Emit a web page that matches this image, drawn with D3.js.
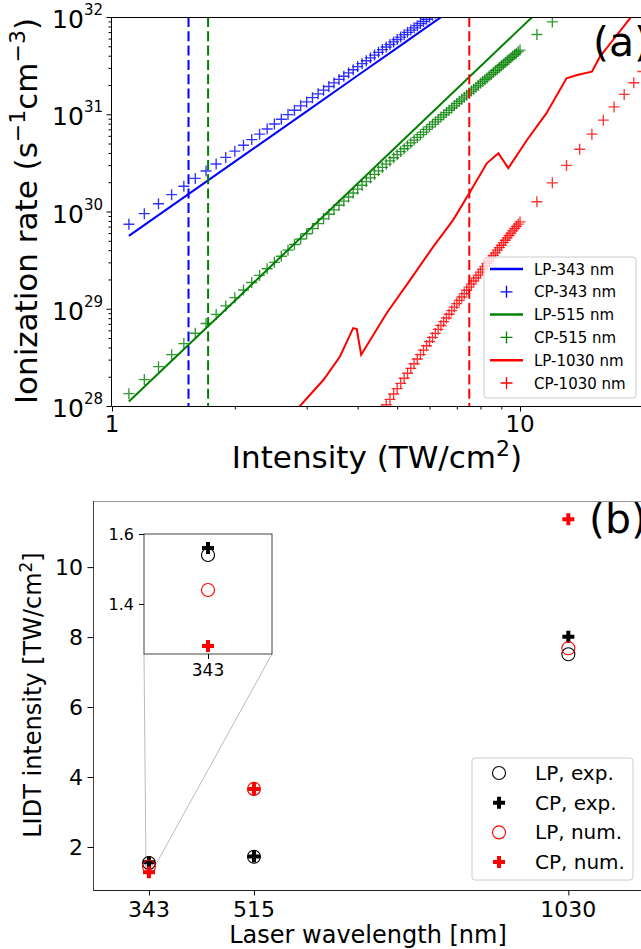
<!DOCTYPE html>
<html>
<head>
<meta charset="utf-8">
<script src="https://cdn.jsdelivr.net/npm/d3@7"></script>
<style>
  html, body { margin: 0; padding: 0; background: #fff; overflow: hidden; }
  svg { display: block; font-family: "DejaVu Sans", sans-serif; }
</style>
</head>
<body>
<svg id="fig" width="641" height="949"></svg>
<script>
// ---------- panel (a): ionization rate vs intensity ----------
const lp343I = [1.1, 2, 3, 4, 5, 6, 6.5];
const lp343Rate = [5.62e29, 3.26e30, 1.07e31, 2.50e31, 4.82e31, 8.24e31, 1.04e32];

const cp343I = [1.1,1.2,1.3,1.4,1.5,1.6,1.7,1.8,1.9,2.0,2.1,2.2,2.3,2.4,2.5,2.6,2.7,2.8,2.9,3.0,
  3.1,3.2,3.3,3.4,3.5,3.6,3.7,3.8,3.9,4.0,4.1,4.2,4.3,4.4,4.5,4.6,4.7,4.8,4.9,5.0,
  5.1,5.2,5.3,5.4,5.5,5.6,5.7,5.8,5.9,6.0,6.1,6.2];
const cp343Rate = [7.4e29,9.5e29,1.20e30,1.49e30,1.82e30,2.19e30,2.61e30,3.08e30,3.60e30,4.17e30,
  4.80e30,5.49e30,6.24e30,7.06e30,7.94e30,8.89e30,9.92e30,1.10e31,1.22e31,1.34e31,
  1.48e31,1.62e31,1.77e31,1.93e31,2.10e31,2.28e31,2.46e31,2.66e31,2.87e31,3.09e31,
  3.31e31,3.55e31,3.80e31,4.06e31,4.33e31,4.62e31,4.91e31,5.22e31,5.54e31,5.87e31,
  6.22e31,6.58e31,6.95e31,7.34e31,7.74e31,8.15e31,8.58e31,9.01e31,9.48e31,9.95e31,
  1.04e32,1.09e32];

const lp515I = [1.1, 2, 3, 5, 10, 11];
const lp515Rate = [1.11e28, 1.21e29, 6.14e29, 4.74e30, 7.59e31, 1.11e32];

const cp515I = [1.1,1.2,1.3,1.4,1.5,1.6,1.7,1.8,1.9,2.0,2.1,2.2,2.3,2.4,2.5,2.6,2.7,2.8,2.9,3.0,
  3.1,3.2,3.3,3.4,3.5,3.6,3.7,3.8,3.9,4.0,4.1,4.2,4.3,4.4,4.5,4.6,4.7,4.8,4.9,5.0,
  5.1,5.2,5.3,5.4,5.5,5.6,5.7,5.8,5.9,6.0,6.1,6.2,6.3,6.4,6.5,6.6,6.7,6.8,6.9,7.0,
  7.1,7.2,7.3,7.4,7.5,7.6,7.7,7.8,7.9,8.0,8.1,8.2,8.3,8.4,8.5,8.6,8.7,8.8,8.9,9.0,
  9.1,9.2,9.3,9.4,9.5,9.6,9.7,9.8,9.9,10.0,11,12];
const cp515Rate = [1.34e28,1.87e28,2.54e28,3.37e28,4.38e28,5.60e28,7.05e28,8.75e28,1.07e29,1.30e29,
  1.56e29,1.86e29,2.20e29,2.58e29,3.00e29,3.47e29,4.00e29,4.58e29,5.21e29,5.91e29,
  6.67e29,7.50e29,8.40e29,9.38e29,1.04e30,1.16e30,1.28e30,1.41e30,1.55e30,1.70e30,
  1.86e30,2.03e30,2.22e30,2.41e30,2.62e30,2.84e30,3.07e30,3.31e30,3.57e30,3.84e30,
  4.13e30,4.42e30,4.74e30,5.07e30,5.42e30,5.78e30,6.17e30,6.56e30,6.98e30,7.42e30,
  7.87e30,8.34e30,8.84e30,9.35e30,9.89e30,1.04e31,1.10e31,1.16e31,1.22e31,1.29e31,
  1.36e31,1.43e31,1.50e31,1.57e31,1.65e31,1.73e31,1.81e31,1.90e31,1.98e31,2.08e31,
  2.17e31,2.27e31,2.36e31,2.47e31,2.57e31,2.68e31,2.80e31,2.91e31,3.03e31,3.15e31,
  3.27e31,3.41e31,3.54e31,3.67e31,3.81e31,3.96e31,4.11e31,4.25e31,4.41e31,4.57e31,
  6.6e31,8.9e31];

const lp1030I = [2.85,3.30,3.62,3.90,3.98,4.08,4.71,5.38,6.13,6.86,7.54,8.29,8.85,9.36,
  10.4,11.6,13.0,13.8,15.0,15.7,16.9,18.6,19.5];
const lp1030Rate = [9.4e27,1.86e28,3.23e28,6.32e28,6.17e28,3.36e28,9.0e28,1.98e29,4.36e29,8.2e29,
  1.59e30,3.13e30,3.97e30,2.79e30,5.44e30,1.02e31,2.34e31,2.53e31,2.74e31,3.91e31,
  5.8e31,9.7e31,1.3e32];

const cp1030I = [4.6,4.7,4.8,4.9,5.0,5.1,5.2,5.3,5.4,5.5,5.6,5.7,5.8,5.9,6.0,
  6.1,6.2,6.3,6.4,6.5,6.6,6.7,6.8,6.9,7.0,7.1,7.2,7.3,7.4,7.5,7.6,7.7,7.8,7.9,8.0,
  8.1,8.2,8.3,8.4,8.5,8.6,8.7,8.8,8.9,9.0,9.1,9.2,9.3,9.4,9.5,9.6,9.7,9.8,9.9,10.0,
  11,12,13,14,15,16,17,18,19,20];
const cp1030Rate = [8.96e27,1.03e28,1.17e28,1.33e28,1.51e28,
  1.71e28,1.93e28,2.17e28,2.44e28,2.72e28,3.04e28,3.38e28,3.75e28,4.16e28,4.60e28,
  5.07e28,5.58e28,6.13e28,6.73e28,7.36e28,8.04e28,8.78e28,9.56e28,1.04e29,1.13e29,
  1.22e29,1.32e29,1.43e29,1.55e29,1.67e29,1.79e29,1.93e29,2.07e29,2.22e29,2.38e29,
  2.55e29,2.73e29,2.92e29,3.11e29,3.32e29,3.53e29,3.76e29,4.00e29,4.25e29,4.50e29,
  4.78e29,5.06e29,5.36e29,5.67e29,5.99e29,6.33e29,6.68e29,7.04e29,7.42e29,7.82e29,
  1.26e30,1.97e30,2.98e30,4.37e30,6.24e30,8.70e30,1.19e31,1.60e31,2.11e31,2.75e31];

const seriesNames = ["LP-343 nm", "CP-343 nm", "LP-515 nm", "CP-515 nm", "LP-1030 nm", "CP-1030 nm"];
const seriesColors = ["#0000ff", "#0000ff", "#008000", "#008000", "#ff0000", "#ff0000"];
const rateExponents = [28, 29, 30, 31, 32];
const intensityTicks = [1, 10];
const intensityTickLabels = ["1", "10"];
const intensityMinorTicks = [2, 3, 4, 5, 6, 7, 8, 9, 20];

// ---------- panel (b): LIDT vs wavelength ----------
const wavelengths = [343, 515, 1030];
const lidtLPexp = [1.54, 1.72, 7.51];
const lidtCPexp = [1.56, 1.73, 8.01];
const lidtLPnum = [1.44, 3.66, 7.68];
const lidtCPnum = [1.28, 3.66, 11.37];
const lidtTicks = [2, 4, 6, 8, 10];
const insetTicks = [1.4, 1.6];
const lidtLegend = ["LP, exp.", "CP, exp.", "LP, num.", "CP, num."];

const svg = d3.select("#fig");
const defs = svg.append("defs");

// ======================= panel (a) =======================
const A = { left: 112, top: 17, bottom: 406 };
const xA = d3.scaleLog().domain([1, 25]).range([A.left, 682.4]);
const yA = d3.scaleLog().domain([1e28, 1e32]).range([A.bottom, A.top]);

defs.append("clipPath").attr("id", "clipA")
  .append("rect").attr("x", A.left).attr("y", A.top).attr("width", 600).attr("height", A.bottom - A.top);

const gA = svg.append("g");
const plotA = gA.append("g").attr("clip-path", "url(#clipA)");

const lineA = d3.line().x(d => xA(d[0])).y(d => yA(d[1]));
const crossPath = s => `M${-s},0H${s}M0,${-s}V${s}`;
const zip = (a, b) => a.map((v, i) => [v, b[i]]);

function drawLine(I, R, color) {
  plotA.append("path").datum(zip(I, R)).attr("d", lineA)
    .attr("fill", "none").attr("stroke", color).attr("stroke-width", 2);
}
function drawCrosses(I, R, color) {
  plotA.append("g").selectAll("path").data(zip(I, R)).join("path")
    .attr("transform", d => `translate(${xA(d[0])},${yA(d[1])})`)
    .attr("d", crossPath(5.5))
    .attr("fill", "none").attr("stroke", color).attr("stroke-width", 1.35).attr("stroke-opacity", 0.8);
}

drawLine(lp343I, lp343Rate, seriesColors[0]);
drawCrosses(cp343I, cp343Rate, seriesColors[1]);
drawLine(lp515I, lp515Rate, seriesColors[2]);
drawCrosses(cp515I, cp515Rate, seriesColors[3]);
drawLine(lp1030I, lp1030Rate, seriesColors[4]);
drawCrosses(cp1030I, cp1030Rate, seriesColors[5]);

// measured LP thresholds as vertical dashed markers
const dashColors = ["#0000ff", "#008000", "#ff0000"];
plotA.append("g").selectAll("line").data(lidtLPexp).join("line")
  .attr("x1", d => xA(d)).attr("x2", d => xA(d))
  .attr("y1", A.top).attr("y2", A.bottom)
  .attr("stroke", (d, i) => dashColors[i]).attr("stroke-width", 2)
  .attr("stroke-dasharray", "10,4.3");

// spines
gA.append("line").attr("x1", A.left).attr("x2", 641).attr("y1", A.top + 0.5).attr("y2", A.top + 0.5).attr("stroke", "#000");
gA.append("line").attr("x1", A.left).attr("x2", 641).attr("y1", A.bottom + 0.5).attr("y2", A.bottom + 0.5).attr("stroke", "#000");
gA.append("line").attr("x1", A.left - 0.5).attr("x2", A.left - 0.5).attr("y1", A.top).attr("y2", A.bottom + 0.5).attr("stroke", "#000");

// y axis ticks (major + minor)
const yMinor = [];
rateExponents.slice(0, -1).forEach(e => { for (let m = 2; m <= 9; m++) yMinor.push(m * Math.pow(10, e)); });
gA.append("g").attr("transform", `translate(${A.left - 0.5},0)`)
  .call(d3.axisLeft(yA).tickValues(rateExponents.map(e => Math.pow(10, e))).tickSize(5).tickFormat(() => ""))
  .call(g => g.select(".domain").remove());
gA.append("g").attr("transform", `translate(${A.left - 0.5},0)`)
  .call(d3.axisLeft(yA).tickValues(yMinor).tickSize(3).tickFormat(() => ""))
  .call(g => g.select(".domain").remove());
const yLab = gA.append("g").selectAll("text").data(rateExponents).join("text")
  .attr("x", 103).attr("y", e => yA(Math.pow(10, e)) + 11)
  .attr("text-anchor", "end").attr("font-size", 25).attr("fill", "#000");
yLab.append("tspan").text("10");
yLab.append("tspan").attr("dy", -13).attr("font-size", 15).text(e => e);

// x axis ticks
gA.append("g").attr("transform", `translate(0,${A.bottom + 0.5})`)
  .call(d3.axisBottom(xA).tickValues(intensityTicks).tickSize(5).tickFormat(() => ""))
  .call(g => g.select(".domain").remove());
gA.append("g").attr("transform", `translate(0,${A.bottom + 0.5})`)
  .call(d3.axisBottom(xA).tickValues(intensityMinorTicks).tickSize(3).tickFormat(() => ""))
  .call(g => g.select(".domain").remove());
gA.append("g").selectAll("text").data(intensityTicks).join("text")
  .attr("x", d => xA(d)).attr("y", 432)
  .attr("text-anchor", "middle").attr("font-size", 23).attr("fill", "#000")
  .text((d, i) => intensityTickLabels[i]);

// axis titles
const xt = gA.append("text").attr("x", 377).attr("y", 468).attr("text-anchor", "middle")
  .attr("font-size", 31).attr("fill", "#000");
xt.append("tspan").text("Intensity (TW/cm");
xt.append("tspan").attr("dy", -12).attr("font-size", 22).text("2");
xt.append("tspan").attr("dy", 12).text(")");

const yt = gA.append("text").attr("transform", "translate(37,211) rotate(-90)")
  .attr("text-anchor", "middle").attr("font-size", 31).attr("fill", "#000");
yt.append("tspan").text("Ionization rate (s");
yt.append("tspan").attr("dy", -12).attr("font-size", 22).text("\u22121");
yt.append("tspan").attr("dy", 12).text("cm");
yt.append("tspan").attr("dy", -12).attr("font-size", 22).text("\u22123");
yt.append("tspan").attr("dy", 12).text(")");

gA.append("text").attr("x", 593).attr("y", 56).attr("font-size", 41).attr("fill", "#000").text("(a)");

// legend (a)
const legA = gA.append("g").attr("transform", "translate(484,257)");
legA.append("rect").attr("width", 152).attr("height", 141).attr("rx", 3)
  .attr("fill", "#fff").attr("fill-opacity", 0.8).attr("stroke", "#ccc");
seriesNames.forEach((name, i) => {
  const cy = 12 + i * 22.8;
  const row = legA.append("g").attr("transform", `translate(0,${cy})`);
  if (i % 2 === 0) {
    row.append("line").attr("x1", 6).attr("x2", 39).attr("stroke", seriesColors[i]).attr("stroke-width", 2.5);
  } else {
    row.append("path").attr("transform", "translate(22.5,0)").attr("d", crossPath(6))
      .attr("fill", "none").attr("stroke", seriesColors[i]).attr("stroke-width", 1.3);
  }
  row.append("text").attr("x", 50).attr("y", 5.5).attr("font-size", 15).attr("fill", "#000").text(name);
});

// ======================= panel (b) =======================
const B = { left: 93, top: 501, bottom: 890 };
const xB = d3.scaleLinear().domain([251.3, 1150]).range([B.left, 641.6]);
const yB = d3.scaleLinear().domain([0.77, 11.89]).range([B.bottom, B.top]);
const gB = svg.append("g");

const plusPath = "M-2,-6H2V-2H6V2H2V6H-2V2H-6V-2H-2Z";
const markerSpecs = [
  { vals: lidtLPexp, kind: "circle", color: "#000" },
  { vals: lidtCPexp, kind: "plus", color: "#000" },
  { vals: lidtLPnum, kind: "circle", color: "#ff0000" },
  { vals: lidtCPnum, kind: "plus", color: "#ff0000" }
];
function drawMarker(g, kind, color, x, y) {
  if (kind === "circle") {
    g.append("circle").attr("cx", x).attr("cy", y).attr("r", 6.5)
      .attr("fill", "none").attr("stroke", color).attr("stroke-width", 1.1);
  } else {
    g.append("path").attr("transform", `translate(${x},${y})`).attr("d", plusPath).attr("fill", color);
  }
}

// spines
gB.append("line").attr("x1", B.left).attr("x2", 641).attr("y1", B.top + 0.5).attr("y2", B.top + 0.5).attr("stroke", "#999");
gB.append("line").attr("x1", B.left).attr("x2", 641).attr("y1", B.bottom + 0.5).attr("y2", B.bottom + 0.5).attr("stroke", "#222");
gB.append("line").attr("x1", B.left + 0.5).attr("x2", B.left + 0.5).attr("y1", B.top).attr("y2", B.bottom + 0.5).attr("stroke", "#444");

gB.append("g").attr("transform", `translate(${B.left + 0.5},0)`)
  .call(d3.axisLeft(yB).tickValues(lidtTicks).tickSize(6).tickFormat(() => ""))
  .call(g => g.select(".domain").remove());
gB.append("g").selectAll("text").data(lidtTicks).join("text")
  .attr("x", 83).attr("y", d => yB(d) + 8).attr("text-anchor", "end")
  .attr("font-size", 22).attr("fill", "#000").text(d => d);
gB.append("g").attr("transform", `translate(0,${B.bottom + 0.5})`)
  .call(d3.axisBottom(xB).tickValues(wavelengths).tickSize(5).tickFormat(() => ""))
  .call(g => g.select(".domain").remove());
gB.append("g").selectAll("text").data(wavelengths).join("text")
  .attr("x", d => xB(d)).attr("y", 917).attr("text-anchor", "middle")
  .attr("font-size", 22).attr("fill", "#000").text(d => d);

gB.append("text").attr("x", 368).attr("y", 943).attr("text-anchor", "middle")
  .attr("font-size", 24).attr("fill", "#000").text("Laser wavelength [nm]");
const ybt = gB.append("text").attr("transform", "translate(41,695) rotate(-90)")
  .attr("text-anchor", "middle").attr("font-size", 24).attr("fill", "#000");
ybt.append("tspan").text("LIDT intensity [TW/cm");
ybt.append("tspan").attr("dy", -9).attr("font-size", 17).text("2");
ybt.append("tspan").attr("dy", 9).text("]");

// zoom box for 343 nm
const insetX = [338, 348];
const insetY = [1.257, 1.6];
const xI = d3.scaleLinear().domain(insetX).range([144, 272]);
const yI = d3.scaleLinear().domain(insetY).range([654, 534]);
gB.append("rect").attr("x", xB(insetX[0])).attr("y", yB(insetY[1]))
  .attr("width", xB(insetX[1]) - xB(insetX[0])).attr("height", yB(insetY[0]) - yB(insetY[1]))
  .attr("fill", "none").attr("stroke", "#aaa").attr("stroke-width", 1);
gB.append("line").attr("x1", xI(insetX[0])).attr("y1", yI(insetY[0]))
  .attr("x2", xB(insetX[0])).attr("y2", yB(insetY[1])).attr("stroke", "#bbb").attr("stroke-width", 1);
gB.append("line").attr("x1", xI(insetX[1])).attr("y1", yI(insetY[0]))
  .attr("x2", xB(insetX[1]) + 3).attr("y2", yB(insetY[1]) + 5).attr("stroke", "#bbb").attr("stroke-width", 1);

// data markers
markerSpecs.forEach(s => {
  s.vals.forEach((v, i) => drawMarker(gB, s.kind, s.color, xB(wavelengths[i]), yB(v)));
});

// inset axes
const gI = gB.append("g");
gI.append("rect").attr("x", 144).attr("y", 534).attr("width", 128).attr("height", 120)
  .attr("fill", "#fff").attr("stroke", "#444").attr("stroke-width", 1);
markerSpecs.forEach(s => drawMarker(gI, s.kind, s.color, xI(wavelengths[0]), yI(s.vals[0])));
gI.append("g").attr("transform", "translate(144,0)")
  .call(d3.axisLeft(yI).tickValues(insetTicks).tickSize(5).tickFormat(() => ""))
  .call(g => g.select(".domain").remove());
gI.append("g").selectAll("text").data(insetTicks).join("text")
  .attr("x", 134).attr("y", d => yI(d) + 6).attr("text-anchor", "end")
  .attr("font-size", 16).attr("fill", "#000").text(d => d.toFixed(1));
gI.append("g").attr("transform", "translate(0,654)")
  .call(d3.axisBottom(xI).tickValues([wavelengths[0]]).tickSize(5).tickFormat(() => ""))
  .call(g => g.select(".domain").remove());
gI.append("text").attr("x", xI(wavelengths[0])).attr("y", 676).attr("text-anchor", "middle")
  .attr("font-size", 17).attr("fill", "#000").text(wavelengths[0]);

gB.append("text").attr("x", 589).attr("y", 533).attr("font-size", 41).attr("fill", "#000").text("(b)");

// legend (b)
const legB = gB.append("g").attr("transform", "translate(472,758)");
legB.append("rect").attr("width", 161).attr("height", 122).attr("rx", 3)
  .attr("fill", "#fff").attr("fill-opacity", 0.8).attr("stroke", "#ccc");
lidtLegend.forEach((name, i) => {
  const cy = 15 + i * 29.7;
  drawMarker(legB, markerSpecs[i].kind, markerSpecs[i].color, 27, cy);
  legB.append("text").attr("x", 63).attr("y", cy + 7).attr("font-size", 20).attr("fill", "#000").text(name);
});
</script>
</body>
</html>
